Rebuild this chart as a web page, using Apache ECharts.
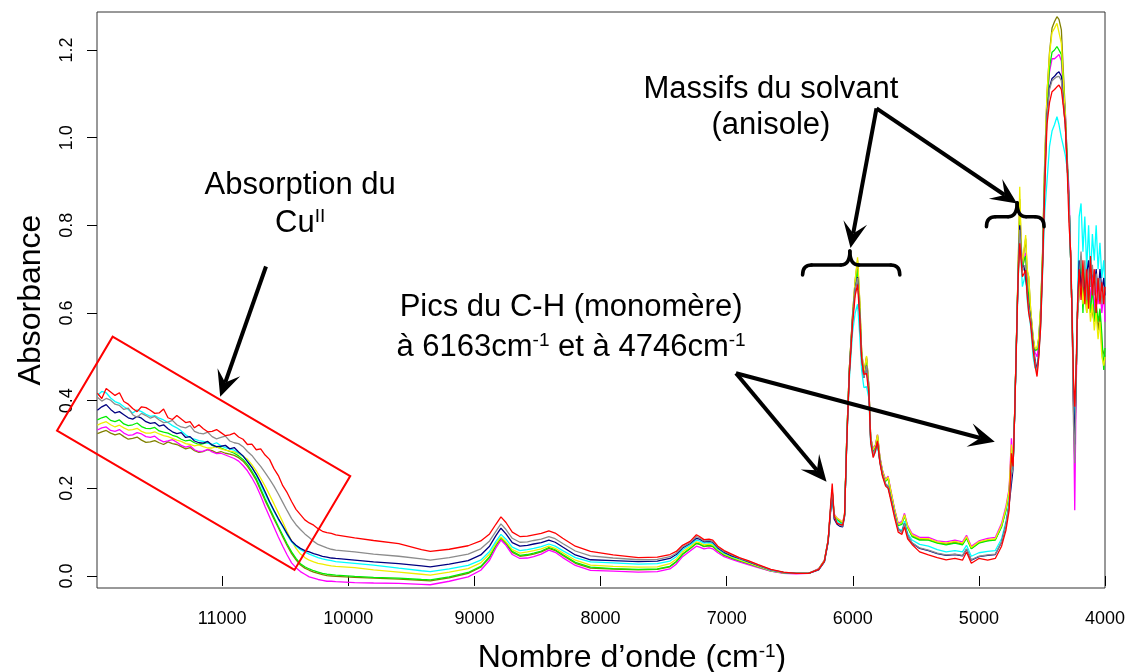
<!DOCTYPE html>
<html><head><meta charset="utf-8">
<script src="https://cdn.jsdelivr.net/npm/echarts@6/dist/echarts.min.js"></script>
<style>html,body{margin:0;padding:0;background:#fff}#main{width:1129px;height:672px}</style>
</head><body><div id="main"></div>
<script>
// ---------- DATA ----------
const wavenumber = [
11990,11955,11920,11885,11850,11815,11780,11745,11710,11675,11640,11605,11570,11535,11500,11465,11430,11395,11360,11325,11290,11255,11220,11185,11150,11115,11080,11045,11010,10975,10940,10905,10870,10835,10800,10765,10730,10695,10660,10625,10590,10555,10520,10485,10450,10415,10380,10345,10310,10275,10240,10205,10170,10135,10100,
9950,9800,9600,9420,9350,9200,9050,8950,8880,8830,8790,8750,8700,8640,8580,8530,8470,8410,8360,8300,8200,8080,7900,7700,7550,7450,7400,7350,7290,7240,7215,7180,7140,7110,7070,7020,6960,6900,6830,6750,6650,6550,
6450,6350,6270,6225,6195,6175,6163,6148,6125,6100,6080,6065,6048,6028,6002,5981,5962,5945,5930,5912,5891,5872,5858,5838,5820,5804,5785,5765,5740,5720,5700,5670,5640,5610,5590,5565,
5530,5470,5400,5330,5260,5190,5130,5098,5060,5000,4930,4870,4820,4785,4760,
4742,4729,4716,4703,4690,4676,4665,4655,4642,4629,4617,4605,4590,4570,4555,4539,4525,4510,4495,4478,4460,4440,4420,4400,
4381,4365,4346,4330,4315,4300,4285,4272,4260,4250,4240,4230,4218,4205,4190,4175,4160,4145,4130,4115,4100,4085,4070,4055,4040,4025,4010,4000];

const red = [
.417,.405,.428,.420,.412,.418,.398,.392,.382,.375,.386,.384,.378,.371,.372,.381,.361,.357,.366,.358,.350,.352,.338,.345,.336,.329,.330,.334,.327,.320,.322,.326,.317,.312,.300,.301,.288,.290,.276,.266,.245,.229,.206,.190,.170,.152,.140,.128,.121,.116,.108,.102,.099,.097,.094,
.087,.081,.074,.060,.056,.061,.069,.080,.096,.118,.135,.122,.100,.090,.091,.094,.097,.103,.098,.086,.068,.056,.048,.042,.043,.049,.056,.070,.079,.094,.090,.083,.084,.082,.068,.058,.050,.042,.035,.026,.015,.009,
.006,.006,.015,.034,.082,.165,.211,.138,.120,.118,.116,.140,.300,.455,.575,.640,.665,.590,.495,.460,.462,.415,.305,.270,.285,.308,.258,.228,.205,.200,.175,.135,.100,.095,.112,.085,
.072,.055,.048,.042,.037,.040,.036,.055,.029,.040,.036,.040,.068,.105,.150,
.280,.250,.370,.520,.670,.759,.720,.683,.690,.698,.640,.600,.576,.516,.480,.455,.500,.570,.700,.880,1.030,1.080,1.105,1.110,
1.116,1.120,1.110,1.070,1.030,.930,.800,.740,.580,.450,.386,.460,.620,.700,.630,.720,.620,.700,.610,.730,.640,.700,.600,.680,.620,.670,.620,.660];

const gray = [
.408,.399,.405,.401,.392,.389,.380,.383,.368,.362,.371,.366,.360,.364,.356,.350,.351,.355,.345,.340,.338,.343,.330,.326,.324,.328,.318,.313,.316,.319,.308,.304,.302,.295,.284,.275,.262,.250,.236,.221,.205,.187,.168,.149,.131,.117,.106,.096,.088,.079,.072,.068,.064,.061,.059,
.055,.050,.045,.039,.036,.042,.050,.062,.080,.102,.119,.106,.086,.077,.078,.081,.084,.090,.085,.074,.057,.046,.041,.037,.038,.044,.052,.066,.076,.090,.087,.080,.081,.079,.066,.056,.048,.041,.034,.025,.014,.008,
.006,.006,.015,.033,.080,.155,.198,.135,.122,.116,.114,.138,.305,.462,.585,.655,.680,.600,.500,.452,.480,.420,.310,.278,.290,.305,.262,.232,.210,.205,.180,.142,.106,.100,.120,.092,
.076,.064,.059,.052,.048,.050,.047,.062,.037,.045,.048,.050,.078,.118,.165,
.230,.245,.372,.525,.675,.790,.730,.695,.705,.710,.650,.615,.585,.525,.490,.462,.505,.580,.710,.900,1.050,1.110,1.130,1.135,
1.139,1.140,1.130,1.080,1.030,.940,.850,.720,.580,.350,.257,.440,.600,.680,.740,.660,.720,.630,.700,.660,.710,.640,.690,.630,.680,.620,.660,.630];

const navy = [
.378,.386,.391,.380,.372,.375,.368,.361,.358,.364,.360,.352,.348,.350,.342,.345,.336,.329,.325,.327,.316,.318,.308,.304,.303,.307,.299,.295,.296,.298,.290,.293,.283,.274,.261,.248,.232,.213,.192,.170,.150,.131,.114,.096,.080,.070,.063,.058,.055,.051,.048,.045,.043,.041,.040,
.036,.032,.028,.023,.021,.027,.035,.048,.068,.092,.109,.096,.076,.068,.070,.073,.076,.082,.077,.066,.048,.037,.035,.033,.034,.040,.049,.064,.074,.086,.084,.078,.079,.077,.064,.054,.046,.040,.033,.024,.014,.008,
.006,.006,.014,.032,.078,.150,.192,.130,.118,.113,.112,.136,.305,.462,.585,.655,.682,.600,.500,.452,.480,.420,.310,.278,.290,.304,.262,.232,.210,.205,.180,.142,.106,.100,.120,.092,
.075,.063,.058,.051,.047,.049,.046,.061,.036,.044,.047,.049,.077,.117,.163,
.210,.245,.372,.525,.675,.800,.735,.698,.708,.712,.652,.618,.588,.528,.494,.470,.510,.585,.715,.905,1.055,1.115,1.135,1.140,
1.147,1.150,1.140,1.080,1.030,.940,.850,.720,.580,.400,.300,.440,.600,.720,.660,.700,.640,.690,.720,.660,.700,.660,.700,.640,.700,.650,.680,.640];

const cyan = [
.412,.421,.418,.406,.398,.394,.386,.380,.372,.379,.375,.369,.364,.366,.360,.356,.350,.343,.338,.331,.322,.316,.312,.309,.307,.303,.300,.304,.297,.293,.290,.287,.281,.273,.262,.248,.230,.209,.187,.167,.148,.129,.112,.094,.078,.068,.060,.055,.050,.046,.042,.039,.037,.035,.033,
.029,.025,.018,.012,.010,.016,.024,.036,.056,.079,.095,.084,.066,.058,.060,.063,.067,.073,.068,.058,.042,.032,.030,.027,.028,.034,.044,.060,.071,.082,.080,.075,.076,.074,.062,.052,.045,.039,.032,.024,.013,.008,
.006,.006,.015,.033,.080,.155,.190,.135,.126,.120,.117,.138,.300,.445,.555,.600,.620,.550,.470,.430,.432,.405,.300,.272,.283,.300,.258,.230,.208,.200,.180,.142,.108,.104,.125,.097,
.082,.072,.068,.060,.055,.058,.055,.070,.045,.053,.056,.058,.085,.125,.170,
.240,.248,.370,.515,.660,.770,.715,.660,.675,.690,.630,.600,.570,.500,.475,.470,.505,.570,.690,.830,.900,.980,1.015,1.030,
1.048,1.030,1.000,.980,.960,.930,.850,.720,.620,.420,.348,.450,.620,.820,.850,.740,.820,.700,.800,.680,.780,.720,.800,.700,.760,.680,.720,.660];

const yellow = [
.344,.349,.352,.345,.340,.344,.338,.333,.334,.337,.330,.326,.326,.329,.324,.320,.318,.314,.310,.307,.302,.300,.297,.299,.295,.292,.292,.295,.290,.287,.285,.283,.279,.273,.266,.254,.240,.223,.205,.185,.165,.144,.123,.101,.080,.063,.050,.042,.036,.032,.029,.027,.025,.023,.022,
.019,.014,.009,.004,.002,.009,.017,.030,.050,.074,.089,.078,.060,.052,.055,.058,.062,.068,.063,.053,.036,.025,.022,.020,.021,.028,.038,.055,.067,.078,.076,.071,.073,.071,.060,.050,.043,.037,.030,.022,.012,.007,
.006,.006,.016,.035,.082,.155,.196,.140,.132,.127,.122,.142,.315,.470,.595,.675,.727,.630,.515,.462,.502,.430,.315,.288,.298,.322,.270,.240,.218,.226,.196,.153,.118,.122,.140,.113,
.094,.086,.085,.078,.075,.079,.075,.090,.065,.078,.083,.085,.116,.155,.196,
.300,.255,.378,.530,.690,.888,.760,.710,.745,.778,.700,.683,.610,.545,.518,.520,.545,.615,.740,.949,1.100,1.190,1.240,1.250,
1.261,1.240,1.215,1.130,1.050,.940,.850,.720,.580,.420,.340,.440,.600,.650,.690,.620,.660,.600,.640,.580,.620,.560,.600,.540,.580,.500,.480,.500];

const green = [
.356,.361,.364,.355,.352,.356,.347,.343,.345,.349,.341,.337,.336,.339,.331,.328,.326,.321,.318,.312,.308,.310,.304,.300,.302,.305,.298,.294,.292,.288,.284,.280,.274,.266,.254,.239,.222,.199,.176,.155,.134,.113,.093,.073,.055,.040,.028,.021,.016,.012,.009,.006,.004,.003,.002,
-.001,-.003,-.005,-.008,-.009,-.002,.008,.022,.044,.071,.088,.076,.056,.047,.049,.052,.057,.065,.060,.049,.031,.020,.017,.015,.016,.022,.033,.050,.063,.075,.073,.068,.070,.068,.058,.048,.041,.035,.029,.021,.012,.007,
.006,.006,.016,.035,.082,.155,.192,.138,.128,.123,.118,.140,.312,.468,.590,.665,.700,.615,.508,.458,.495,.428,.313,.286,.296,.318,.268,.238,.216,.222,.193,.150,.115,.118,.138,.110,
.090,.082,.082,.075,.071,.075,.071,.086,.062,.075,.080,.082,.112,.150,.192,
.270,.252,.375,.528,.682,.820,.745,.702,.720,.730,.668,.640,.600,.540,.515,.516,.540,.608,.730,.930,1.080,1.160,1.195,1.200,
1.208,1.200,1.190,1.120,1.050,.960,.850,.720,.580,.440,.330,.440,.600,.670,.720,.600,.700,.620,.660,.600,.660,.580,.620,.580,.610,.550,.470,.520];

const magenta = [
.333,.338,.340,.332,.330,.334,.326,.321,.322,.327,.324,.318,.316,.319,.311,.306,.308,.311,.305,.298,.294,.297,.288,.284,.285,.289,.283,.279,.280,.276,.272,.268,.262,.252,.240,.224,.206,.183,.158,.135,.112,.089,.068,.048,.030,.019,.010,.004,-.002,-.005,-.008,-.010,-.012,-.012,-.013,
-.015,-.016,-.017,-.019,-.020,-.012,-.002,.013,.036,.064,.082,.070,.049,.040,.041,.044,.050,.059,.054,.042,.024,.013,.011,.009,.010,.016,.027,.044,.057,.068,.066,.062,.064,.062,.053,.044,.038,.032,.026,.019,.011,.006,
.005,.006,.017,.036,.083,.158,.195,.142,.132,.127,.122,.142,.312,.468,.590,.668,.702,.615,.510,.465,.497,.432,.316,.290,.300,.322,.272,.242,.220,.228,.198,.155,.120,.125,.143,.115,
.097,.088,.088,.080,.078,.082,.078,.093,.068,.080,.086,.088,.120,.160,.200,
.314,.258,.376,.528,.680,.835,.750,.700,.720,.737,.670,.625,.600,.538,.510,.500,.530,.600,.725,.925,1.075,1.150,1.180,1.180,
1.185,1.190,1.175,1.100,1.063,.950,.880,.720,.580,.400,.150,.400,.600,.660,.700,.620,.680,.640,.700,.620,.700,.600,.670,.620,.660,.600,.650,.580];

const olive = [
.325,.329,.332,.326,.322,.325,.318,.312,.314,.317,.310,.305,.306,.309,.304,.300,.306,.302,.300,.295,.290,.293,.286,.282,.284,.288,.286,.281,.284,.280,.278,.275,.270,.262,.250,.235,.218,.195,.172,.151,.130,.110,.089,.069,.051,.037,.025,.018,.013,.009,.006,.003,.001,.000,-.001,
-.003,-.005,-.007,-.010,-.011,-.004,.006,.020,.042,.069,.086,.074,.054,.045,.047,.050,.055,.063,.058,.047,.029,.018,.016,.014,.015,.021,.032,.049,.062,.074,.072,.067,.069,.067,.057,.047,.040,.034,.028,.020,.011,.007,
.006,.006,.016,.035,.082,.155,.193,.140,.130,.125,.120,.140,.312,.470,.595,.675,.720,.628,.515,.462,.500,.430,.315,.288,.298,.322,.270,.240,.218,.226,.196,.153,.118,.122,.140,.113,
.092,.084,.083,.076,.073,.077,.073,.088,.063,.076,.081,.083,.114,.152,.194,
.290,.254,.376,.530,.688,.860,.755,.708,.742,.770,.695,.683,.608,.543,.516,.518,.543,.612,.738,.945,1.100,1.195,1.250,1.265,
1.276,1.270,1.246,1.150,1.060,.940,.850,.720,.580,.380,.270,.440,.600,.640,.700,.640,.660,.600,.680,.620,.600,.580,.620,.560,.600,.520,.520,.500];

const xTicks = [11000, 10000, 9000, 8000, 7000, 6000, 5000, 4000];
const yTicks = [0, 0.2, 0.4, 0.6, 0.8, 1.0, 1.2];

// ---------- STYLE / LAYOUT ----------
const FONT = '"Liberation Sans", Arial, Helvetica, sans-serif';
const seriesDefs = [
  ['olive', olive, '#808000'],
  ['magenta', magenta, '#FF00FF'],
  ['green', green, '#00EE00'],
  ['yellow', yellow, '#EEEE00'],
  ['cyan', cyan, '#00FFFF'],
  ['navy', navy, '#000080'],
  ['gray', gray, '#8C8C8C'],
  ['red', red, '#FF0000']
];

const chart = echarts.init(document.getElementById('main'), null, {renderer: 'canvas'});
const option = {
  animation: false,
  backgroundColor: '#ffffff',
  grid: {left: 97, right: 24, top: 12, bottom: 84, show: true, borderColor: '#333', borderWidth: 1,
    backgroundColor: 'transparent', containLabel: false, outerBoundsMode: 'none'},
  xAxis: {
    type: 'value', inverse: true, min: 4000, max: 11993,
    axisLine: {show: false}, splitLine: {show: false},
    axisTick: {show: true, inside: false, length: 10, lineStyle: {color: '#000', width: 1}, customValues: xTicks},
    axisLabel: {customValues: xTicks, margin: 22, fontSize: 18, color: '#000', fontFamily: FONT,
      formatter: v => String(Math.round(v))},
    name: 'Nombre d’onde (cm{sup|-1})', nameLocation: 'middle', nameGap: 54,
    nameTextStyle: {fontSize: 32, color: '#000', fontFamily: FONT, padding: [0, 0, 0, 62],
      rich: {sup: {fontSize: 19, verticalAlign: 'top', fontFamily: FONT, color: '#000'}}}
  },
  yAxis: {
    type: 'value', min: -0.0274, max: 1.2867,
    axisLine: {show: false}, splitLine: {show: false},
    axisTick: {show: true, inside: false, length: 10, lineStyle: {color: '#000', width: 1}, customValues: yTicks},
    axisLabel: {customValues: yTicks, rotate: 90, margin: 21, fontSize: 18, color: '#000', fontFamily: FONT,
      formatter: v => Number(v).toFixed(1)},
    name: 'Absorbance', nameLocation: 'middle', nameGap: 50,
    nameTextStyle: {fontSize: 32, color: '#000', fontFamily: FONT}
  },
  series: seriesDefs.map(([n, vals, c]) => ({
    name: n, type: 'line', showSymbol: false, symbol: 'none', smooth: false,
    lineStyle: {color: c, width: 1.3}, itemStyle: {color: c},
    data: wavenumber.map((w, i) => [w, vals[i]])
  }))
};
chart.setOption(option);

// ---------- ANNOTATIONS (anchored in data coordinates) ----------
const cuBox = [[11869, 0.546], [9985, 0.228], [10427, 0.0137], [12310, 0.3315]];
const arrowDefs = [
  {from: [10653, 0.706], to: [11016, 0.409]},
  {from: [5812, 1.067], to: [6018, 0.748]},
  {from: [5812, 1.067], to: [4697, 0.850]},
  {from: [6926, 0.4625], to: [6208, 0.215]},
  {from: [6926, 0.4625], to: [4874, 0.306]}
];
const braceDefs = [
  {l: 6398, r: 5627, c: 6023, y: 0.7096},
  {l: 4940, r: 4483, c: 4697, y: 0.8198}
];
const labelDefs = [
  {t: 'Absorption du', at: [10382, 0.890]},
  {t: 'Cu{s|II}', at: [10382, 0.805]},
  {t: 'Massifs du solvant', at: [6649, 1.111]},
  {t: '(anisole)', at: [6649, 1.027]},
  {t: 'Pics du C-H (monomère)', at: [8234, 0.612]},
  {t: 'à 6163cm{s|-1} et à 4746cm{s|-1}', at: [8234, 0.522]}
];

const px = p => chart.convertToPixel({xAxisIndex: 0, yAxisIndex: 0}, p);
const els = [];
els.push({type: 'polygon', z: 100, shape: {points: cuBox.map(px)}, style: {stroke: '#FF0000', lineWidth: 2, fill: null}});

arrowDefs.forEach(a => {
  const s = px(a.from), t = px(a.to);
  const dx = t[0] - s[0], dy = t[1] - s[1], len = Math.hypot(dx, dy);
  const ux = dx / len, uy = dy / len, nx = -uy, ny = ux;
  const L = 26, W = 12, N = 15;
  const b = [t[0] - ux * L, t[1] - uy * L];
  const notch = [t[0] - ux * N, t[1] - uy * N];
  els.push({type: 'line', z: 100, shape: {x1: s[0], y1: s[1], x2: notch[0], y2: notch[1]}, style: {stroke: '#000', lineWidth: 4}});
  els.push({type: 'polygon', z: 100, shape: {points: [t, [b[0] + nx * W, b[1] + ny * W], notch, [b[0] - nx * W, b[1] - ny * W]]}, style: {fill: '#000'}});
});

braceDefs.forEach(bd => {
  const xl = px([bd.l, bd.y])[0], xr = px([bd.r, bd.y])[0], xc = px([bd.c, bd.y])[0], yb = px([bd.l, bd.y])[1];
  const h = 10, c = 14, r = 9;
  const st = {stroke: '#000', lineWidth: 3.5, fill: null, lineCap: 'round'};
  els.push({type: 'bezierCurve', z: 100, shape: {x1: xl, y1: yb + h, cpx1: xl, cpy1: yb, x2: xl + r, y2: yb}, style: st});
  els.push({type: 'line', z: 100, shape: {x1: xl + r, y1: yb, x2: xc - r, y2: yb}, style: st});
  els.push({type: 'bezierCurve', z: 100, shape: {x1: xc - r, y1: yb, cpx1: xc, cpy1: yb, x2: xc, y2: yb - c}, style: st});
  els.push({type: 'bezierCurve', z: 100, shape: {x1: xc, y1: yb - c, cpx1: xc, cpy1: yb, x2: xc + r, y2: yb}, style: st});
  els.push({type: 'line', z: 100, shape: {x1: xc + r, y1: yb, x2: xr - r, y2: yb}, style: st});
  els.push({type: 'bezierCurve', z: 100, shape: {x1: xr - r, y1: yb, cpx1: xr, cpy1: yb, x2: xr, y2: yb + h}, style: st});
});

labelDefs.forEach(lb => {
  const p = px(lb.at);
  els.push({type: 'text', z: 100, x: p[0], y: p[1], style: {
    text: lb.t, fontSize: 31, fontFamily: FONT, fill: '#000', align: 'center', verticalAlign: 'middle',
    rich: {s: {fontSize: 19, fontFamily: FONT, fill: '#000', verticalAlign: 'top'}}
  }});
});

chart.setOption({graphic: {elements: els}});
</script>
</body></html>
